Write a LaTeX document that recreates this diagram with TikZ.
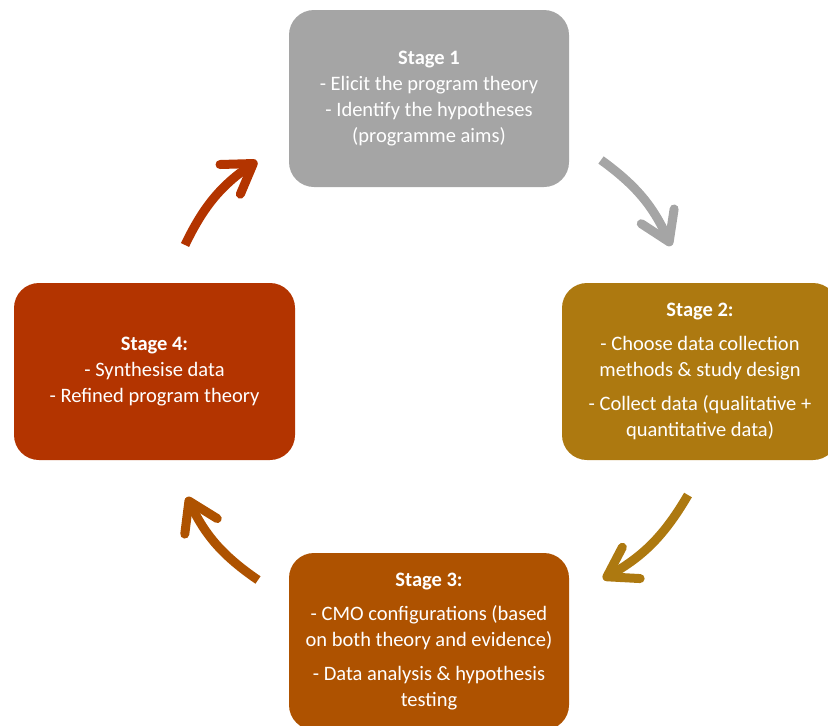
\documentclass[tikz,border=0pt]{standalone}
\usepackage{fontspec}
\setmainfont{Carlito}
\usetikzlibrary{arrows.meta}
\definecolor{stagegray}{HTML}{A5A5A5}
\definecolor{stagegold}{HTML}{AD7910}
\definecolor{stageorange}{HTML}{AE5200}
\definecolor{stagered}{HTML}{B33400}
\tikzstyle{stage}=[rectangle,rounded corners=25pt,minimum width=280pt,minimum height=177pt,inner sep=0pt,text=white,align=center,font=\fontsize{20.5}{26}\selectfont]
\tikzstyle{flow}=[line width=9pt,-{Straight Barb[length=28pt,width=36pt,round]}]

\begin{document}
\begin{tikzpicture}[x=1pt,y=-1pt]
    \useasboundingbox (0,0) rectangle (828,726);
    \clip (0,0) rectangle (828,726);
    % First we draw the four stages
    \node[stage,fill=stagegray] (s1) at (429,98.5) {\textbf{Stage 1}\\- Elicit the program theory\\- Identify the hypotheses\\(programme aims)};
    \node[stage,fill=stagegold,minimum width=276pt] (s2) at (700,371.5) {\textbf{Stage 2:}\\[8pt]- Choose data collection\\methods \& study design\\[8pt]- Collect data (qualitative +\\quantitative data)};
    \node[stage,fill=stageorange] (s3) at (429,641.5) {\textbf{Stage 3:}\\[8pt]- CMO configurations (based\\on both theory and evidence)\\[8pt]- Data analysis \& hypothesis\\testing};
    \node[stage,fill=stagered,minimum width=281pt] (s4) at (154.5,371.5) {\textbf{Stage 4:}\\- Synthesise data\\- Refined program theory};
    % End points of the arrows
    \foreach \px/\py/\name in {601/160/a1, 671/246/b1, 688/495/a2, 603/579/b2, 258/580/a3, 187/497/b3, 185/245/a4, 257/161/b4}
        \coordinate (\name) at (\px,\py);
    % Connect the stages with curved arrows
    \foreach \src/\dst/\clr in {a1/b1/stagegray, a2/b2/stagegold, a3/b3/stageorange, a4/b4/stagered}
        \draw[flow,draw=\clr] (\src) to[bend left=15] (\dst);
\end{tikzpicture}
\end{document}
